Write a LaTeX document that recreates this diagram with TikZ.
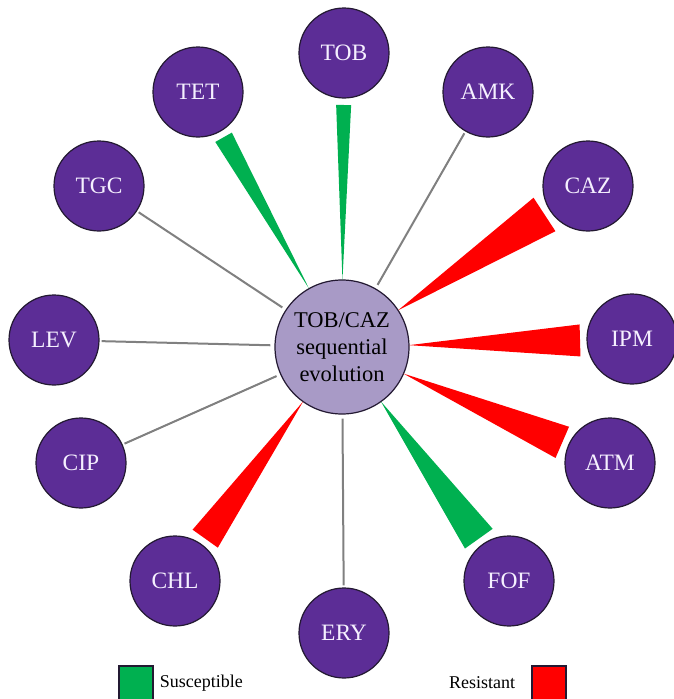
\documentclass[tikz,border=0pt]{standalone}
\usepackage{fontspec}
\setmainfont{Liberation Serif}
\usetikzlibrary{calc, positioning}

\definecolor{drugpurple}{RGB}{92,45,150}
\definecolor{hublav}{RGB}{168,154,198}
\definecolor{suscgreen}{RGB}{0,176,80}
\definecolor{resred}{RGB}{255,0,0}
\definecolor{linkgray}{RGB}{128,128,128}
\definecolor{rimdark}{RGB}{35,25,50}
\definecolor{labelwhite}{RGB}{245,240,255}

\begin{document}
\begin{tikzpicture}[
    x=1pt, y=-1pt,
    drug/.style={circle, draw=rimdark, line width=1.2pt, fill=drugpurple, text=labelwhite, minimum size=90pt, inner sep=0pt, font=\rmfamily\fontsize{23.5}{26}\selectfont},
    hubnode/.style={circle, draw=rimdark, line width=1.2pt, fill=hublav, minimum size=134pt, inner sep=0pt, align=center, font=\rmfamily\fontsize{22.5}{27}\selectfont},
    link/.style={draw=linkgray, line width=2pt, shorten <=4pt, shorten >=2pt},
    legendbox/.style={rectangle, draw=rimdark, line width=1.2pt, minimum size=34pt, inner sep=0pt},
    legendtext/.style={font=\rmfamily\fontsize{18}{20}\selectfont, inner sep=0pt}
]
    \clip (0,0) rectangle (674,699);
    \fill[white] (0,0) rectangle (674,699);

    % Nodes
    \node (hub) [hubnode] at (342,347) {TOB/CAZ\\sequential\\evolution};
    \node (tob) [drug] at (344,53) {TOB};
    \node (amk) [drug] at (488,92) {AMK};
    \node (caz) [drug] at (588,186) {CAZ};
    \node (ipm) [drug] at (632,339) {IPM};
    \node (atm) [drug] at (610,463) {ATM};
    \node (fof) [drug] at (509,581) {FOF};
    \node (ery) [drug] at (344,633) {ERY};
    \node (chl) [drug] at (175,581) {CHL};
    \node (cip) [drug] at (81,463) {CIP};
    \node (lev) [drug] at (54,340) {LEV};
    \node (tgc) [drug] at (99,186) {TGC};
    \node (tet) [drug] at (198,92) {TET};

    % No change: plain grey links
    \path [link] (hub) -- (amk);
    \path [link] (hub) -- (ery);
    \path [link] (hub) -- (cip);
    \path [link] (hub) -- (lev);
    \path [link] (hub) -- (tgc);

    % Susceptible (green) and resistant (red) wedges
    \foreach \n/\w/\c in {tob/15/suscgreen, tet/19/suscgreen, fof/34/suscgreen,
                          caz/40/resred, ipm/32/resred, atm/34/resred, chl/31/resred} {
        \coordinate (tip) at ($(hub.center)!67pt!(\n.center)$);
        \coordinate (base) at ($(\n.center)!52pt!(hub.center)$);
        \fill[\c] (tip) -- ($(base)!\w*0.5pt!90:(tip)$) -- ($(base)!\w*0.5pt!-90:(tip)$) -- cycle;
    }

    % Legend
    \node (susbox) [legendbox, fill=suscgreen] at (136,683) {};
    \node (sustext) [legendtext, right=6pt of susbox] {Susceptible};
    \node (resbox) [legendbox, fill=resred] at (549,683) {};
    \node (restext) [legendtext, left=16pt of resbox] {Resistant};
\end{tikzpicture}
\end{document}
